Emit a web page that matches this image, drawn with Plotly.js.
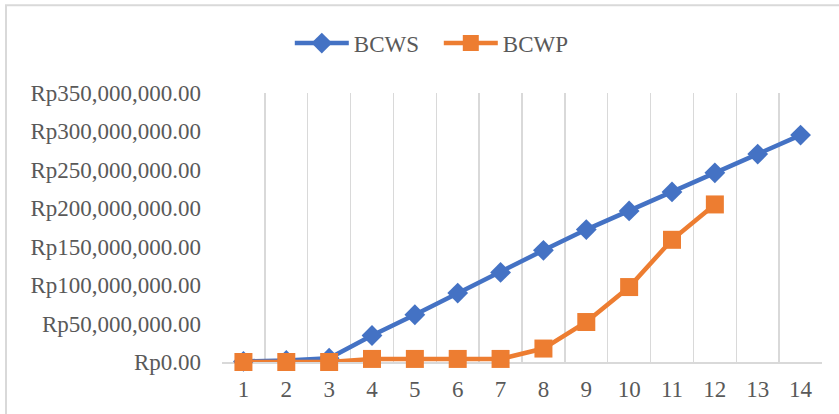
<!DOCTYPE html>
<html>
<head>
<meta charset="utf-8">
<script src="https://cdn.plot.ly/plotly-3.0.1.min.js"></script>
<style>
  html, body { margin: 0; padding: 0; background: #ffffff; overflow: hidden; }
  #chart { width: 839px; height: 414px; }
</style>
</head>
<body>
<div id="chart"></div>
<script>
// Periods (week numbers)
const periods = ["1","2","3","4","5","6","7","8","9","10","11","12","13","14"];
// Budgeted Cost of Work Scheduled (Rp)
const bcws = [800000, 2000000, 5000000, 34500000, 61500000, 89700000, 116500000, 145300000, 172300000, 196600000, 221300000, 246100000, 270500000, 295200000];
// Budgeted Cost of Work Performed (Rp)
const bcwp = [0, 0, 0, 4000000, 4000000, 4000000, 4000000, 17500000, 52000000, 97500000, 159000000, 205000000];
// Y axis ticks
const yTicks = [0, 50000000, 100000000, 150000000, 200000000, 250000000, 300000000, 350000000];
const yTickText = ["Rp0.00", "Rp50,000,000.00", "Rp100,000,000.00", "Rp150,000,000.00", "Rp200,000,000.00", "Rp250,000,000.00", "Rp300,000,000.00", "Rp350,000,000.00"];

const textColor = "#595959";
const gridColor = "#d9d9d9";
const fontFamily = "'Liberation Serif', 'Times New Roman', serif";

const traces = [
  {
    x: periods, y: bcws, name: "BCWS", type: "scatter", mode: "lines+markers",
    line: { color: "#4472C4", width: 4.5 },
    marker: { symbol: "diamond", size: 16, color: "#4472C4" },
    cliponaxis: false
  },
  {
    x: periods.slice(0, bcwp.length), y: bcwp, name: "BCWP", type: "scatter", mode: "lines+markers",
    line: { color: "#ED7D31", width: 4.5 },
    marker: { symbol: "square", size: 18, color: "#ED7D31" },
    cliponaxis: false
  }
];

const layout = {
  width: 839, height: 414,
  margin: { l: 222, r: 17, t: 93, b: 51.5, pad: 0 },
  paper_bgcolor: "#ffffff", plot_bgcolor: "#ffffff",
  font: { family: fontFamily, size: 23, color: textColor },
  showlegend: true,
  legend: {
    orientation: "h", xref: "paper", yref: "paper",
    x: 0.113, xanchor: "left", y: 1.1855, yanchor: "middle",
    font: { family: fontFamily, size: 23, color: textColor },
    itemwidth: 54, entrywidth: 80, bgcolor: "rgba(0,0,0,0)"
  },
  xaxis: {
    type: "category", range: [-0.5, 13.5],
    tickson: "boundaries", ticks: "",
    showgrid: true, gridcolor: gridColor, gridwidth: 1.5,
    showline: true, linecolor: gridColor, linewidth: 1.5,
    zeroline: false, fixedrange: true, layer: "below traces",
    tickfont: { family: fontFamily, size: 23, color: textColor },
    ticklabelstandoff: 6
  },
  yaxis: {
    range: [0, 350000000], tickmode: "array", tickvals: yTicks, ticktext: yTickText,
    showgrid: false, zeroline: false, showline: false, ticks: "",
    tickfont: { family: fontFamily, size: 23, color: textColor },
    ticklabelstandoff: 20, fixedrange: true, layer: "below traces"
  },
  shapes: [
    {
      type: "rect", xref: "paper", yref: "paper",
      x0: (6 - 222) / 600, x1: 1.2, y0: -0.3, y1: (362.5 - 5) / 269.5,
      line: { color: gridColor, width: 2 }, fillcolor: "rgba(0,0,0,0)", layer: "below"
    }
  ]
};

Plotly.newPlot("chart", traces, layout, { displayModeBar: false, staticPlot: true });
</script>
</body>
</html>
